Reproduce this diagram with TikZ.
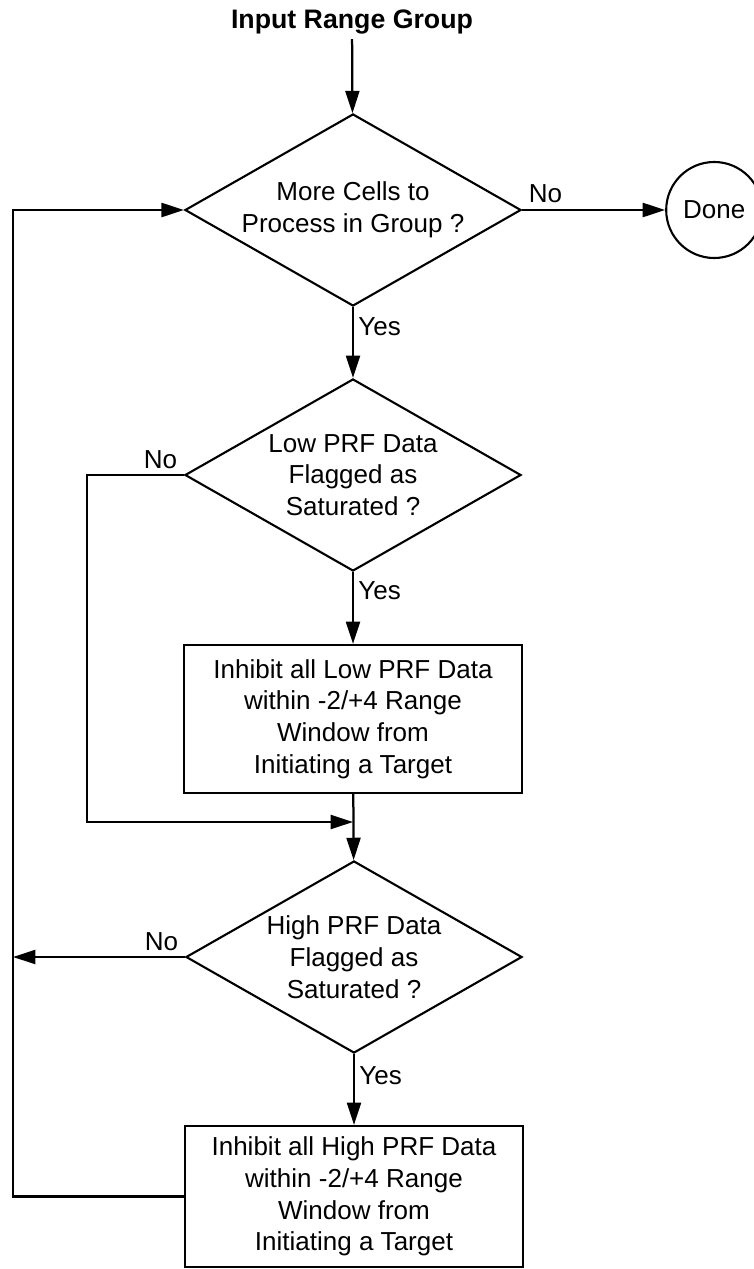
\documentclass[tikz,border=0pt]{standalone}
\usepackage{fontspec}
\setmainfont{Liberation Sans}
\usetikzlibrary{positioning,arrows.meta,shapes.geometric}
\newcommand{\flowfont}{\fontsize{18.5pt}{22.6pt}\selectfont}
\tikzset{
    every node/.style={font=\flowfont},
    decision/.style={diamond,draw,line width=1.5pt,aspect=1.75,minimum width=8.4cm,minimum height=4.8cm,inner sep=0pt,align=center},
    procbox/.style={rectangle,draw,line width=1.5pt,minimum width=8.45cm,inner sep=0pt,align=center},
    termcirc/.style={circle,draw,line width=1.5pt,minimum size=2.4cm,inner sep=0pt},
    flow/.style={line width=1.6pt,-{Triangle[length=5.6mm,width=3.5mm]}},
    yeslbl/.style={anchor=west,inner sep=3pt},
    nolbl/.style={inner sep=4pt}
}

\begin{document}
\begin{tikzpicture}[x=0.025cm,y=-0.025cm]
    \useasboundingbox (0,0) rectangle (754,1269);
    \node[font=\fontsize{19pt}{23pt}\selectfont] (title) at (352,22) {\textbf{Input Range Group}};
    \node[decision] (more) at (353,210) {More Cells to\\Process in Group ?};
    \node[termcirc,right=3.575cm of more] (done) {Done};
    \node[decision] (lowsat) at (353,475) {Low PRF Data\\Flagged as\\Saturated ?};
    \node[procbox,minimum height=3.7cm] (lowinh) at (353,719) {Inhibit all Low PRF Data\\within -2/+4 Range\\Window from\\Initiating a Target};
    \node[decision] (highsat) at (354,957) {High PRF Data\\Flagged as\\Saturated ?};
    \node[procbox,minimum height=3.525cm] (highinh) at (354,1196.5) {Inhibit all High PRF Data\\within -2/+4 Range\\Window from\\Initiating a Target};
    \coordinate (lowby) at (87,475);
    \coordinate (lowjoin) at (353,822);
    \coordinate (backarr) at (13,957);
    \coordinate (loopbot) at (13,1196.5);
    \draw[flow] (title) -- (more);
    \draw[flow] (more) -- node[nolbl,anchor=south west,pos=0] {No} (done);
    \draw[flow] (more) -- node[yeslbl,pos=0.27] {Yes} (lowsat);
    \draw[flow] (lowsat.west) -- node[nolbl,anchor=south east,pos=0] {No} (lowby) |- (lowjoin);
    \draw[flow] (lowsat) -- node[yeslbl,pos=0.26] {Yes} (lowinh);
    \draw[flow] (lowinh) -- (highsat);
    \draw[flow] (highsat.west) -- node[nolbl,anchor=south east,pos=0] {No} (backarr);
    \draw[flow] (highsat) -- node[yeslbl,pos=0.3] {Yes} (highinh);
    \draw[flow] (highinh.west) -- (loopbot) |- (more.west);
\end{tikzpicture}
\end{document}
